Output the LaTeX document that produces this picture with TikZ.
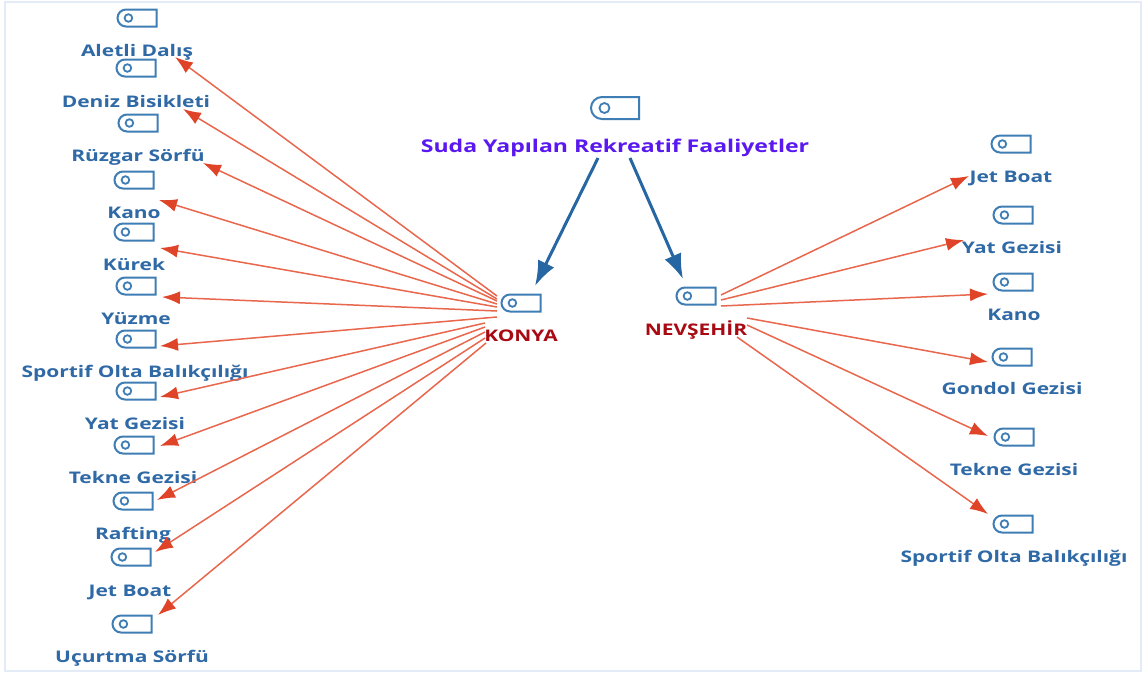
\documentclass[tikz,border=0pt]{standalone}
\usepackage{fontspec}
\setmainfont[FakeStretch=1.31]{Open Sans}
\usetikzlibrary{arrows.meta,shapes.misc,calc}
\definecolor{iconblue}{HTML}{3F7DB5}
\definecolor{leafblue}{HTML}{2F69A6}
\definecolor{linkblue}{HTML}{2566A3}
\definecolor{linkred}{HTML}{E8674D}
\definecolor{tipred}{HTML}{E04428}
\definecolor{cityred}{HTML}{A80A14}
\definecolor{rootviolet}{HTML}{5A18F0}
\definecolor{frameblue}{HTML}{E3ECF6}
\tikzset{
	tagicon/.style={rounded rectangle, rounded rectangle right arc=none, draw=iconblue, line width=2pt, fill=white, inner sep=0pt, minimum width=39pt, minimum height=17pt,
		path picture={\draw[iconblue, line width=1.8pt] ($(path picture bounding box.west)!0.28!(path picture bounding box.east)$) circle (#1);}},
	tagicon/.default=3.8pt,
	roottag/.style={tagicon=5pt, minimum width=48pt, minimum height=22pt},
	leaflabel/.style={inner sep=0pt, text height=13pt, text depth=0pt, text=leafblue, font=\fontsize{16}{18}\selectfont\bfseries},
	citylabel/.style={inner sep=0pt, text height=13pt, text depth=0pt, text=cityred, font=\fontsize{16}{18}\selectfont\bfseries},
	rootlabel/.style={inner sep=0pt, text height=14.4pt, text depth=0pt, text=rootviolet, font=\fontsize{17.6}{22}\selectfont\bfseries},
	redlink/.style={draw=linkred, line width=1.5pt, -{Latex[length=18pt,width=13pt,color=tipred]}},
	bluelink/.style={draw=linkblue, line width=3pt, -{Latex[length=25pt,width=18pt]}}
}
\begin{document}
\begin{tikzpicture}[x=1pt, y=-1pt]
	\useasboundingbox (0, 0) rectangle (1142, 673);
	\fill[white] (0, 0) rectangle (1142, 673);
	\draw[frameblue, line width=1.2pt] (5, 2) rectangle (1141, 671);

	% root and the two cities
	\node[roottag] (root) at (615, 108) {};
	\node[rootlabel] (roottext) at (615, 145) {Suda Yapılan Rekreatif Faaliyetler};
	\node[tagicon] (konya) at (521, 303) {};
	\node[citylabel] (konyatext) at (521, 335) {KONYA};
	\node[tagicon] (nevsehir) at (696, 296) {};
	\node[citylabel] (nevsehirtext) at (696, 329) {NEVŞEHİR};

	% left column
	\node[tagicon] (aletli) at (137, 18) {};
	\node[leaflabel] (aletlitext) at (137, 50) {Aletli Dalış};
	\node[tagicon] (deniz) at (136, 68) {};
	\node[leaflabel] (deniztext) at (136, 101) {Deniz Bisikleti};
	\node[tagicon] (ruzgar) at (138, 123) {};
	\node[leaflabel] (ruzgartext) at (138, 155) {Rüzgar Sörfü};
	\node[tagicon] (kanoL) at (134, 180) {};
	\node[leaflabel] (kanoLtext) at (134, 212) {Kano};
	\node[tagicon] (kurek) at (134, 232) {};
	\node[leaflabel] (kurektext) at (134, 264) {Kürek};
	\node[tagicon] (yuzme) at (136, 286) {};
	\node[leaflabel] (yuzmetext) at (136, 318) {Yüzme};
	\node[tagicon] (sportifL) at (136, 339) {};
	\node[leaflabel] (sportifLtext) at (135, 371) {Sportif Olta Balıkçılığı};
	\node[tagicon] (yatL) at (136, 391) {};
	\node[leaflabel] (yatLtext) at (135, 423) {Yat Gezisi};
	\node[tagicon] (tekneL) at (134, 445) {};
	\node[leaflabel] (tekneLtext) at (133, 477) {Tekne Gezisi};
	\node[tagicon] (rafting) at (133, 501) {};
	\node[leaflabel] (raftingtext) at (133, 533) {Rafting};
	\node[tagicon] (jetL) at (131, 557) {};
	\node[leaflabel] (jetLtext) at (130, 590) {Jet Boat};
	\node[tagicon] (ucurtma) at (132, 624) {};
	\node[leaflabel] (ucurtmatext) at (132, 656) {Uçurtma Sörfü};

	% right column
	\node[tagicon] (jetR) at (1011, 144) {};
	\node[leaflabel] (jetRtext) at (1011, 176) {Jet Boat};
	\node[tagicon] (yatR) at (1013, 215) {};
	\node[leaflabel] (yatRtext) at (1012, 247) {Yat Gezisi};
	\node[tagicon] (kanoR) at (1013, 282) {};
	\node[leaflabel] (kanoRtext) at (1014, 314) {Kano};
	\node[tagicon] (gondol) at (1012, 357) {};
	\node[leaflabel] (gondoltext) at (1012, 388) {Gondol Gezisi};
	\node[tagicon] (tekneR) at (1014, 437) {};
	\node[leaflabel] (tekneRtext) at (1014, 469) {Tekne Gezisi};
	\node[tagicon] (sportifR) at (1013, 524) {};
	\node[leaflabel] (sportifRtext) at (1014, 556) {Sportif Olta Balıkçılığı};

	\draw[bluelink] ([shift={(-17, 13)}]roottext.center) -- ([shift={(14, -17)}]konya.center);
	\draw[bluelink] ([shift={(15, 13)}]roottext.center) -- ([shift={(-13, -17)}]nevsehir.center);

	% konya fan
	\draw[redlink] ([shift={(-24, -7)}]konya.center) -- ([shift={(38, 7)}]aletlitext.center);
	\draw[redlink] ([shift={(-24, -4)}]konya.center) -- ([shift={(47, 8)}]deniztext.center);
	\draw[redlink] ([shift={(-24, -2)}]konya.center) -- ([shift={(65, 8)}]ruzgartext.center);
	\draw[redlink] ([shift={(-24, 1)}]konya.center) -- ([shift={(25, -12)}]kanoLtext.center);
	\draw[redlink] ([shift={(-24, 4)}]konya.center) -- ([shift={(26, -16)}]kurektext.center);
	\draw[redlink] ([shift={(-24, 8)}]konya.center) -- ([shift={(26, -21)}]yuzmetext.center);
	\draw[redlink] ([shift={(-24, 14)}]konya.center) -- ([shift={(25, -25)}]sportifLtext.center);
	\draw[redlink] ([shift={(-36, 20)}]konya.center) -- ([shift={(25, -26)}]yatLtext.center);
	\draw[redlink] ([shift={(-36, 24)}]konya.center) -- ([shift={(27, -31)}]tekneLtext.center);
	\draw[redlink] ([shift={(-36, 29)}]konya.center) -- ([shift={(24, -33)}]raftingtext.center);
	\draw[redlink] ([shift={(-36, 35)}]konya.center) -- ([shift={(25, -38)}]jetLtext.center);
	\draw[redlink] ([shift={(-35, 40)}]konya.center) -- ([shift={(26, -41)}]ucurtmatext.center);

	% nevsehir fan
	\draw[redlink] ([shift={(25, -1)}]nevsehir.center) -- ([shift={(-42, 0)}]jetRtext.center);
	\draw[redlink] ([shift={(25, 4)}]nevsehir.center) -- ([shift={(-48, -7)}]yatRtext.center);
	\draw[redlink] ([shift={(25, 10)}]nevsehir.center) -- ([shift={(-26, -20)}]kanoRtext.center);
	\draw[redlink] ([shift={(51, 22)}]nevsehir.center) -- ([shift={(-24, -26)}]gondoltext.center);
	\draw[redlink] ([shift={(51, 29)}]nevsehir.center) -- ([shift={(-26, -33)}]tekneRtext.center);
	\draw[redlink] ([shift={(41, 41)}]nevsehir.center) -- ([shift={(-26, -42)}]sportifRtext.center);
\end{tikzpicture}
\end{document}
